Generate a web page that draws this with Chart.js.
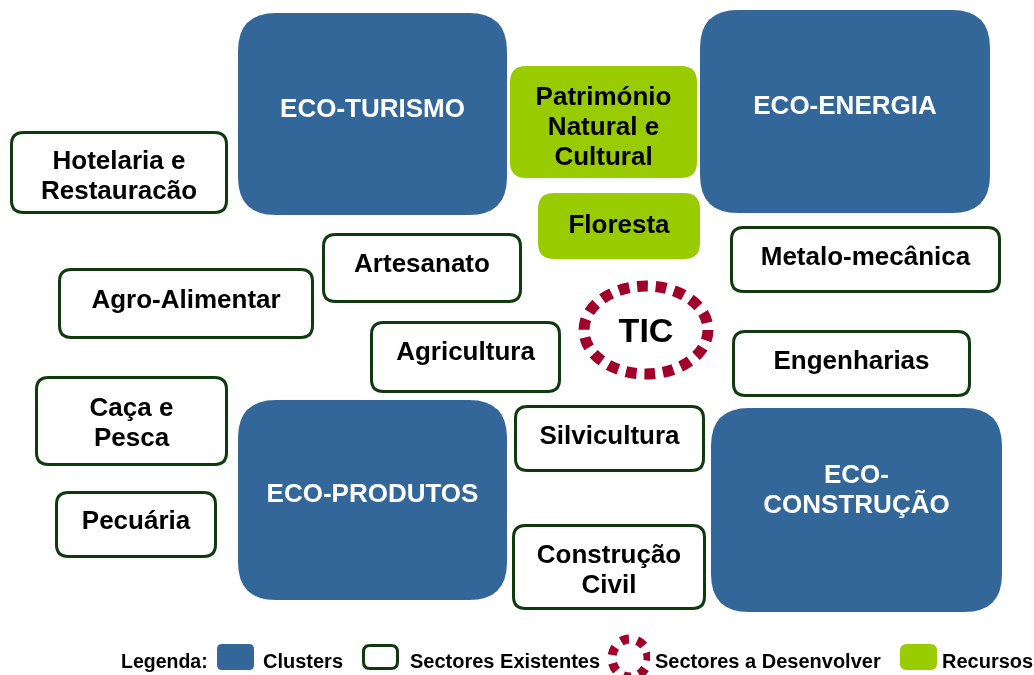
<!DOCTYPE html>
<html><head><meta charset="utf-8">
<script src="https://cdn.jsdelivr.net/npm/chart.js@4"></script>
<style>html,body{margin:0;padding:0;background:#fff}#wrap{width:1034px;height:675px}</style>
</head><body><div id="wrap"><canvas id="c" width="1034" height="675"></canvas></div>
<script>
// Diagram data (diagram coordinate units: x 0..1034, y 0..675)
const labels = ["ECO-TURISMO","ECO-ENERGIA","ECO-PRODUTOS","ECO-\nCONSTRUÇÃO",
  "Património\nNatural e\nCultural","Floresta",
  "Hotelaria e\nRestauracão","Artesanato","Agro-Alimentar","Agricultura","Metalo-mecânica","Engenharias","Caça e\nPesca","Silvicultura","Pecuária","Construção\nCivil",
  "TIC"];
const kinds = ["cluster","cluster","cluster","cluster","recurso","recurso",
  "existente","existente","existente","existente","existente","existente","existente","existente","existente","existente","desenvolver"];
const x0 = [238,700,238,711, 510,538, 10,322,58,370,730,732,35,514,55,512, 584];
const x1 = [507,990,507,1002, 697,700, 228,522,314,561,1001,971,228,705,217,706, 708];
const y0 = [13,10,400,408, 66,193, 131,233,268,321,226,330,376,405,491,524, 286];
const y1 = [215,213,600,612, 178,259, 214,303,339,393,293,397,466,472,558,610, 374];
const textDy = [-4,-5,-5,-19, 6,0, 4,-3,-3,-4,-2,-2,3,-2,-3,4, 3];
const legendNames = ["Clusters","Sectores Existentes","Sectores a Desenvolver","Recursos"];
const legendKinds = ["cluster","existente","desenvolver","recurso"];

const COL = {cluster:"#336699", recurso:"#99CC00", border:"#0E3A0E", red:"#A0002A"};
const FONT = '"Liberation Sans", Arial, Helvetica, sans-serif';

function rr(ctx,x,y,w,h,r){ctx.beginPath();ctx.moveTo(x+r,y);ctx.lineTo(x+w-r,y);ctx.quadraticCurveTo(x+w,y,x+w,y+r);ctx.lineTo(x+w,y+h-r);ctx.quadraticCurveTo(x+w,y+h,x+w-r,y+h);ctx.lineTo(x+r,y+h);ctx.quadraticCurveTo(x,y+h,x,y+h-r);ctx.lineTo(x,y+r);ctx.quadraticCurveTo(x,y,x+r,y);ctx.closePath();}

function drawShape(ctx,kind,X0,Y0,X1,Y1,opt){
  const w=X1-X0,h=Y1-Y0;
  if(kind==="cluster"){rr(ctx,X0,Y0,w,h,Math.min(38,h*0.2));ctx.fillStyle=COL.cluster;ctx.fill();}
  else if(kind==="recurso"){rr(ctx,X0,Y0,w,h,Math.min(16,h*0.25));ctx.fillStyle=COL.recurso;ctx.fill();}
  else if(kind==="existente"){rr(ctx,X0+1.5,Y0+1.5,w-3,h-3,Math.min(12,h*0.25));ctx.fillStyle="#fff";ctx.fill();ctx.lineWidth=3;ctx.strokeStyle=COL.border;ctx.stroke();}
  else if(kind==="desenvolver"){
    const cx=(X0+X1)/2,cy=(Y0+Y1)/2,rx=w/2,ry=h/2;
    const per=Math.PI*(3*(rx+ry)-Math.sqrt((3*rx+ry)*(rx+3*ry)));
    const n=(opt&&opt.n)||18,seg=per/n,lw=(opt&&opt.lw)||11,frac=(opt&&opt.frac)||0.58;
    ctx.save();ctx.beginPath();ctx.ellipse(cx,cy,rx,ry,0,(opt&&opt.rot)||0,Math.PI*2+((opt&&opt.rot)||0));
    ctx.setLineDash([seg*frac,seg*(1-frac)]);ctx.lineWidth=lw;ctx.strokeStyle=COL.red;ctx.stroke();ctx.restore();
  }
}

const diagramPlugin={id:"diagram",afterDatasetsDraw(chart){
  const ctx=chart.ctx,sx=chart.scales.x,sy=chart.scales.y;
  ctx.save();
  for(let i=0;i<labels.length;i++){
    const X0=sx.getPixelForValue(x0[i]),X1=sx.getPixelForValue(x1[i]);
    const Y0=sy.getPixelForValue(y0[i]),Y1=sy.getPixelForValue(y1[i]);
    drawShape(ctx,kinds[i],X0,Y0,X1,Y1);
    const lines=labels[i].split("\n");
    const big=kinds[i]==="desenvolver";
    ctx.font=big?'bold 34px '+FONT:'bold 26px '+FONT;
    ctx.fillStyle=kinds[i]==="cluster"?"#fff":"#000";
    ctx.textAlign="center";ctx.textBaseline="middle";
    const lh=30;
    const cy=(Y0+Y1)/2+textDy[i];
    const start=cy-(lines.length-1)*lh/2;
    lines.forEach((t,k)=>ctx.fillText(t,(X0+X1)/2,start+k*lh));
  }
  // legend
  const ly=sy.getPixelForValue(662);
  ctx.font='bold 19.5px '+FONT;
  ctx.fillStyle="#000";ctx.textAlign="left";ctx.textBaseline="middle";
  ctx.fillText("Legenda:",sx.getPixelForValue(121),ly+1);
  const iconX=[217,362,610,900], textX=[263,410,655,942];
  for(let k=0;k<legendNames.length;k++){
    const ix=sx.getPixelForValue(iconX[k]);
    if(legendKinds[k]==="desenvolver"){
      ctx.save();ctx.beginPath();ctx.rect(ix-8,sy.getPixelForValue(634),48,45);ctx.clip();
      drawShape(ctx,"desenvolver",ix+2,sy.getPixelForValue(639),ix+38,sy.getPixelForValue(677),{n:7,lw:9,frac:0.5,rot:-0.3});ctx.restore();
    } else {
      drawShape(ctx,legendKinds[k],ix,sy.getPixelForValue(644),ix+37,sy.getPixelForValue(670));
    }
    ctx.fillStyle="#000";ctx.font='bold 20px '+FONT;ctx.textAlign="left";ctx.textBaseline="middle";
    ctx.fillText(legendNames[k],sx.getPixelForValue(textX[k]),ly);
  }
  ctx.restore();
}};

new Chart(document.getElementById("c"),{
  type:"scatter",
  data:{datasets:[{data:labels.map((l,i)=>({x:(x0[i]+x1[i])/2,y:(y0[i]+y1[i])/2})),pointRadius:0}]},
  options:{responsive:false,animation:false,layout:{padding:0},
    plugins:{legend:{display:false},tooltip:{enabled:false}},
    scales:{x:{type:"linear",min:0,max:1034,display:false},y:{type:"linear",min:0,max:675,reverse:true,display:false}}},
  plugins:[diagramPlugin]
});
</script></body></html>
